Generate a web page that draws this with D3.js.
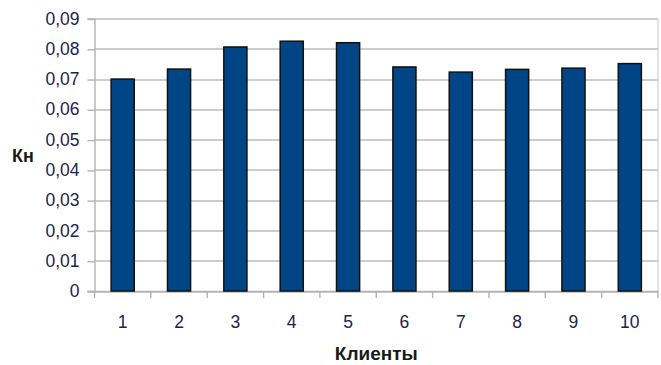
<!DOCTYPE html>
<html>
<head>
<meta charset="utf-8">
<script src="https://cdn.jsdelivr.net/npm/d3@7"></script>
<style>
  body { margin: 0; background: #fff; }
  text { font-family: "Liberation Sans", Arial, sans-serif; }
</style>
</head>
<body>
<div class="canvas"></div>
<script>
// chart data
const clients = ['1', '2', '3', '4', '5', '6', '7', '8', '9', '10'];
const kn = [0.0700, 0.0733, 0.0806, 0.0825, 0.0820, 0.0740, 0.0723, 0.0732, 0.0736, 0.0751];
const yTicks = [0, 0.01, 0.02, 0.03, 0.04, 0.05, 0.06, 0.07, 0.08, 0.09];

const width = 661, height = 365;
const margin = {top: 18.5, right: 3, bottom: 74, left: 94.5};
const graphWidth = width - margin.left - margin.right;
const graphHeight = height - margin.top - margin.bottom;

const svg = d3.select('.canvas')
  .append('svg')
  .attr('width', width)
  .attr('height', height);

const graph = svg.append('g')
  .attr('transform', `translate(${margin.left}, ${margin.top})`);

const y = d3.scaleLinear()
  .domain([0, 0.09])
  .range([graphHeight, 0]);

const x = d3.scaleBand()
  .domain(clients)
  .range([0, graphWidth])
  .paddingInner(0.59)
  .paddingOuter(0.295);

// gridlines
graph.append('g')
  .selectAll('line')
  .data(yTicks)
  .enter()
  .append('line')
  .attr('x1', 0)
  .attr('x2', graphWidth)
  .attr('y1', d => Math.round(y(d)) + 0.5)
  .attr('y2', d => Math.round(y(d)) + 0.5)
  .attr('stroke', '#bdbdbd')
  .attr('stroke-width', 1.4);

// right border
graph.append('line')
  .attr('x1', graphWidth).attr('x2', graphWidth)
  .attr('y1', 0).attr('y2', graphHeight)
  .attr('stroke', '#c8c8c8');

// y axis
const yAxis = d3.axisLeft(y)
  .tickValues(yTicks)
  .tickSize(7)
  .tickPadding(8)
  .tickFormat(d => d === 0 ? '0' : d3.format('.2f')(d).replace('.', ','));

const yAxisGroup = graph.append('g').call(yAxis);
yAxisGroup.selectAll('.tick line').attr('y1', 0.5).attr('y2', 0.5).attr('stroke', '#b3b3b3').attr('stroke-width', 1.4);
yAxisGroup.select('.domain').attr('stroke', '#b3b3b3').attr('stroke-width', 1.4);
yAxisGroup.selectAll('text').attr('font-size', 17.5).attr('fill', '#23234a');

// x axis with ticks at band boundaries
const xAxisGroup = graph.append('g')
  .attr('transform', `translate(0, ${graphHeight})`);
xAxisGroup.append('line')
  .attr('x1', -7).attr('x2', graphWidth)
  .attr('y1', 0.5).attr('y2', 0.5)
  .attr('stroke', '#b3b3b3').attr('stroke-width', 1.4);
const step = x.step();
xAxisGroup.selectAll('.xtick')
  .data(d3.range(clients.length + 1))
  .enter()
  .append('line')
  .attr('x1', i => x(clients[0]) - x.step() * x.paddingOuter() + i * step)
  .attr('x2', i => x(clients[0]) - x.step() * x.paddingOuter() + i * step)
  .attr('y1', 0).attr('y2', 7)
  .attr('stroke', '#b3b3b3').attr('stroke-width', 1.4);
xAxisGroup.selectAll('.xlabel')
  .data(clients)
  .enter()
  .append('text')
  .attr('x', d => x(d) + x.bandwidth() / 2)
  .attr('y', 37)
  .attr('text-anchor', 'middle')
  .attr('font-size', 17.5)
  .attr('fill', '#23234a')
  .text(d => d);

// bars
graph.selectAll('rect.bar')
  .data(kn)
  .enter()
  .append('rect')
  .attr('class', 'bar')
  .attr('x', (d, i) => x(clients[i]))
  .attr('y', d => y(d))
  .attr('width', x.bandwidth())
  .attr('height', d => graphHeight - y(d))
  .attr('fill', '#004586')
  .attr('stroke', '#111')
  .attr('stroke-width', 1.5);

// axis titles
svg.append('text')
  .attr('x', margin.left + graphWidth / 2)
  .attr('y', 360)
  .attr('text-anchor', 'middle')
  .attr('font-size', 19)
  .attr('font-weight', 'bold')
  .attr('fill', '#1a1a1a')
  .text('Клиенты');

svg.append('text')
  .attr('x', 12)
  .attr('y', 162)
  .attr('font-size', 18)
  .attr('font-weight', 'bold')
  .attr('fill', '#1a1a1a')
  .text('Кн');
</script>
</body>
</html>
